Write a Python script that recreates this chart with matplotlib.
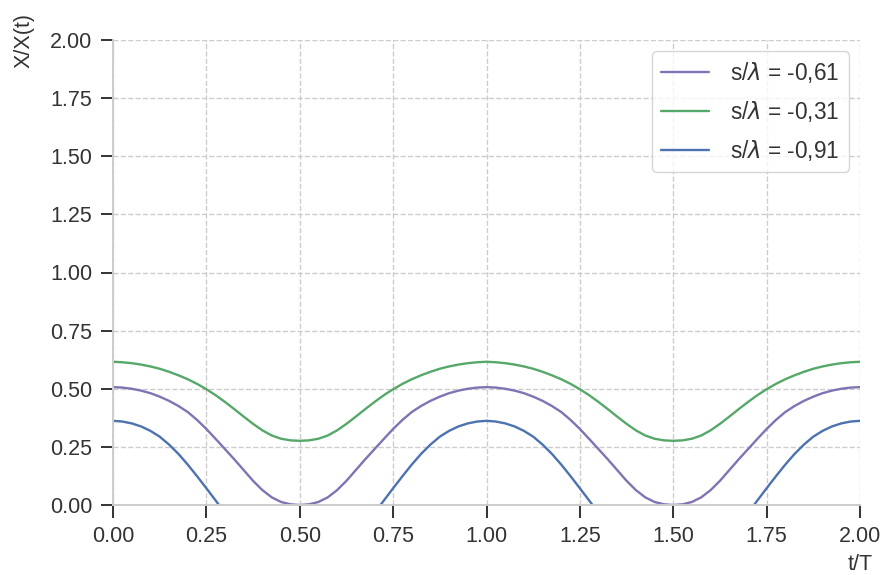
import numpy as np
import matplotlib
matplotlib.use('Agg')
import matplotlib.pyplot as plt
import matplotlib.ticker as mticker
import seaborn as sns

# t/T, values read every 0.025
t = np.linspace(0, 2, 81)
nan = np.nan

# s/lambda = -0,61 (purple)
x_061 = [0.507, 0.505, 0.500, 0.492, 0.481, 0.466, 0.448, 0.426, 0.400, 0.366, 0.327,
         0.284, 0.240, 0.196, 0.150, 0.104, 0.064, 0.033, 0.013, 0.003, 0.000,
         0.003, 0.013, 0.033, 0.064, 0.104, 0.150, 0.196, 0.240, 0.284, 0.327,
         0.366, 0.400, 0.426, 0.448, 0.466, 0.481, 0.492, 0.500, 0.505, 0.507,
         0.505, 0.500, 0.492, 0.481, 0.466, 0.448, 0.426, 0.400, 0.366, 0.327,
         0.284, 0.240, 0.196, 0.150, 0.104, 0.064, 0.033, 0.013, 0.003, 0.000,
         0.003, 0.013, 0.033, 0.064, 0.104, 0.150, 0.196, 0.240, 0.284, 0.327,
         0.366, 0.400, 0.426, 0.448, 0.466, 0.481, 0.492, 0.500, 0.505, 0.507]

# s/lambda = -0,31 (green)
x_031 = [0.616, 0.614, 0.610, 0.604, 0.596, 0.586, 0.573, 0.558, 0.541, 0.521, 0.498,
         0.472, 0.443, 0.412, 0.380, 0.349, 0.321, 0.299, 0.285, 0.278, 0.276,
         0.278, 0.285, 0.299, 0.321, 0.349, 0.380, 0.412, 0.443, 0.472, 0.498,
         0.521, 0.541, 0.558, 0.573, 0.586, 0.596, 0.604, 0.610, 0.614, 0.616,
         0.614, 0.610, 0.604, 0.596, 0.586, 0.573, 0.558, 0.541, 0.521, 0.498,
         0.472, 0.443, 0.412, 0.380, 0.349, 0.321, 0.299, 0.285, 0.278, 0.276,
         0.278, 0.285, 0.299, 0.321, 0.349, 0.380, 0.412, 0.443, 0.472, 0.498,
         0.521, 0.541, 0.558, 0.573, 0.586, 0.596, 0.604, 0.610, 0.614, 0.616]

# s/lambda = -0,91 (blue), cut off below the x axis
x_091 = [0.362, 0.359, 0.351, 0.338, 0.319, 0.294, 0.260, 0.220, 0.174, 0.124, 0.072,
         0.019, -0.035, nan, nan, nan, nan, nan, nan, nan, nan,
         nan, nan, nan, nan, nan, nan, nan, -0.035, 0.019, 0.072,
         0.124, 0.174, 0.220, 0.260, 0.294, 0.319, 0.338, 0.351, 0.359, 0.362,
         0.359, 0.351, 0.338, 0.319, 0.294, 0.260, 0.220, 0.174, 0.124, 0.072,
         0.019, -0.035, nan, nan, nan, nan, nan, nan, nan, nan,
         nan, nan, nan, nan, nan, nan, nan, -0.035, 0.019, 0.072,
         0.124, 0.174, 0.220, 0.260, 0.294, 0.319, 0.338, 0.351, 0.359, 0.362]

labels = ['s/$\\lambda$ = -0,61', 's/$\\lambda$ = -0,31', 's/$\\lambda$ = -0,91']
colors = ['#8172B3', '#55A868', '#4C72B0']

sns.set_style('whitegrid')
plt.rcParams['font.family'] = ['Liberation Sans', 'DejaVu Sans']
plt.rcParams['mathtext.fontset'] = 'dejavusans'

fig = plt.figure(figsize=(8.82, 5.75), dpi=100)
ax = fig.add_axes([113 / 882, 70 / 575, 747 / 882, 465 / 575])

for vals, lab, col in zip([x_061, x_031, x_091], labels, colors):
    ax.plot(t, vals, color=col, lw=1.7, label=lab)

ax.set_xlim(0, 2)
ax.set_ylim(0, 2)
ax.set_xticks(np.arange(0, 2.01, 0.25))
ax.set_yticks(np.arange(0, 2.01, 0.25))
ax.xaxis.set_major_formatter(mticker.FormatStrFormatter('%.2f'))
ax.yaxis.set_major_formatter(mticker.FormatStrFormatter('%.2f'))
ax.grid(True, ls='--', color='#cccccc', lw=1.0)

for s in ['top', 'right']:
    ax.spines[s].set_visible(False)
for s in ['left', 'bottom']:
    ax.spines[s].set_color('#cccccc')
    ax.spines[s].set_linewidth(1.4)

ax.tick_params(axis='both', which='major', direction='out', length=9, width=1.4,
               color='#333333', labelsize=15.5, labelcolor='#333333', pad=6,
               bottom=True, left=True)

ax.set_xlabel('t/T', fontsize=15.5, color='#333333')
ax.set_ylabel('X/X(t)', fontsize=15.5, color='#333333')
ax.xaxis.set_label_coords(1.0, -0.105)
ax.yaxis.set_label_coords(-0.105, 1.0)

leg = ax.legend(loc='upper right', fontsize=16.3, frameon=True,
                labelspacing=0.6, handlelength=2.1, handletextpad=0.95)
leg.get_frame().set_edgecolor('#cccccc')
leg.get_frame().set_linewidth(1.0)
for text in leg.get_texts():
    text.set_color('#333333')

fig.savefig('out.png', dpi=100)
